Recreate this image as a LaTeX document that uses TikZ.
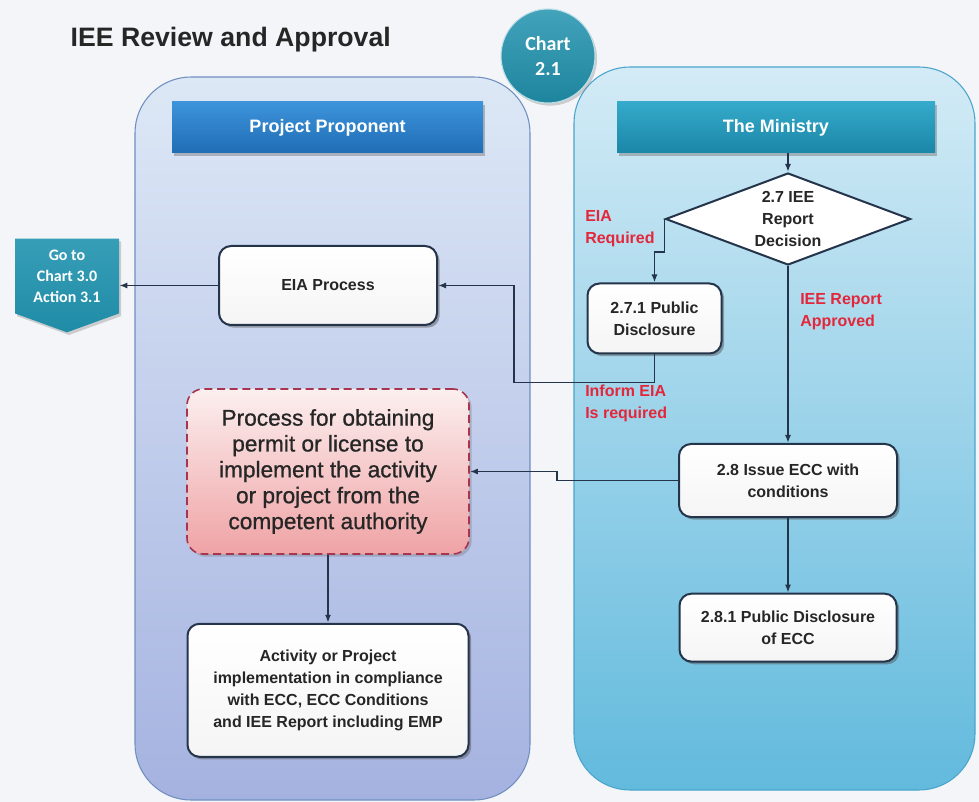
\documentclass[tikz,border=0pt]{standalone}
\usepackage{fontspec}
\setmainfont{Liberation Sans}
\newfontfamily\calibri{Carlito}
\newfontfamily\permitfont[FakeBold=0.8]{Liberation Sans}
\usepackage{tikz}
\usetikzlibrary{shapes.geometric, shapes.symbols, arrows.meta, positioning, shadows}

\definecolor{bgcol}{HTML}{F4F5F9}
\definecolor{laneppTop}{HTML}{DDE8F6}
\definecolor{laneppBot}{HTML}{A5B2E0}
\definecolor{laneppEdge}{HTML}{6F8FC0}
\definecolor{laneminTop}{HTML}{D3EBF6}
\definecolor{laneminBot}{HTML}{62BADD}
\definecolor{laneminEdge}{HTML}{4AA5CC}
\definecolor{ppTop}{HTML}{3D93DA}
\definecolor{ppBot}{HTML}{1F6DB5}
\definecolor{minTop}{HTML}{35AACA}
\definecolor{minBot}{HTML}{1A86A8}
\definecolor{badge}{HTML}{2193AF}
\definecolor{navyline}{HTML}{24344A}
\definecolor{redtxt}{HTML}{E4263A}
\definecolor{permitTop}{HTML}{FCEFEF}
\definecolor{permitBot}{HTML}{EFA3A5}
\definecolor{permitEdge}{HTML}{A83550}

\tikzset{
    base/.style={font=\bfseries\fontsize{12}{16.5}\selectfont, align=center, text=black!85},
    block/.style={base, rectangle, draw=navyline, line width=1.5pt, rounded corners=9pt,
        top color=white, bottom color=gray!8,
        drop shadow={shadow xshift=2pt, shadow yshift=-2pt, opacity=0.45, fill=black!70}},
    permitbox/.style={rectangle, draw=permitEdge, line width=1.2pt, dash pattern=on 6pt off 3.5pt,
        rounded corners=12pt, top color=permitTop, bottom color=permitBot, align=center,
        font=\permitfont\fontsize{17}{19.4}\selectfont, text=black!85,
        drop shadow={shadow xshift=2pt, shadow yshift=-2pt, opacity=0.3, fill=black!60}},
    decision/.style={base, diamond, draw=navyline, line width=1.5pt, fill=white,
        aspect=2.66, inner sep=0pt},
    lane/.style={rectangle, rounded corners=42pt, line width=0.8pt},
    header/.style={rectangle, font=\bfseries\fontsize{13.5}{16}\selectfont, text=white,
        minimum height=38.25pt,
        drop shadow={shadow xshift=1.5pt, shadow yshift=-2pt, opacity=0.4, fill=black!60}},
    redlabel/.style={font=\bfseries\fontsize{12}{16.5}\selectfont, text=redtxt, align=left, inner sep=0pt},
    line/.style={draw=navyline, line width=1.2pt, -{Latex[length=6pt, width=4.5pt]}}
}

\begin{document}
\begin{tikzpicture}[x=0.75pt, y=-0.75pt]
    \useasboundingbox (0,0) rectangle (979,802);
    \fill [bgcol] (0,0) rectangle (979,802);

    % swimlanes
    \node [lane, draw=laneppEdge, top color=laneppTop, bottom color=laneppBot,
        minimum width=296.25pt, minimum height=542.25pt] (LanePP) at (332.5,438.5) {};
    \node [lane, draw=laneminEdge, top color=laneminTop, bottom color=laneminBot,
        minimum width=300.75pt, minimum height=542.25pt] (LaneMIN) at (774.5,428.5) {};

    \node [anchor=base west, font=\bfseries\fontsize{20}{24}\selectfont, text=black!85] (Title) at (66,47) {IEE Review and Approval};
    \node [circle, minimum size=70.5pt, top color=badge!85!white, bottom color=badge!90!black, draw=white!70!badge, line width=0.8pt,
        font=\calibri\bfseries\fontsize{15}{18.75}\selectfont, text=white, align=center,
        drop shadow={shadow xshift=1.5pt, shadow yshift=-2pt, opacity=0.35}] (Chart) at (548,56) {Chart\\2.1};

    \node [header, top color=ppTop, bottom color=ppBot, minimum width=233.25pt] (PP) at (327.5,127.5) {Project Proponent};
    \node [header, top color=minTop, bottom color=minBot, minimum width=238.5pt] (MIN) at (776,127.5) {The Ministry};

    \node [decision, minimum width=183.75pt, minimum height=69pt] (D27) at (788,219) {2.7 IEE\\Report\\Decision};
    \node [block, minimum width=100.5pt, minimum height=52.5pt] (D271) at (654.5,318.5) {2.7.1 Public\\Disclosure};
    \node [block, minimum width=163.5pt, minimum height=54.75pt] (D28) at (788,480.5) {2.8 Issue ECC with\\conditions};
    \node [block, minimum width=162.75pt, minimum height=51pt, below=56pt of D28] (D281) {2.8.1 Public Disclosure\\of ECC};

    \node [block, minimum width=163.5pt, minimum height=59.25pt] (EIA) at (328,285.5) {EIA Process};
    \node [permitbox, minimum width=211.5pt, minimum height=123.75pt] (PRM) at (328,471.5)
        {Process for obtaining\\permit or license to\\implement the activity\\or project from the\\competent authority};
    \node [block, minimum width=210.75pt, minimum height=99.75pt, below=51pt of PRM] (ACT)
        {Activity or Project\\implementation in compliance\\with ECC, ECC Conditions\\and IEE Report including EMP};

    \node [signal, signal to=south, signal pointer angle=140, top color=badge!90!white, bottom color=badge!95!black,
        minimum width=78pt, minimum height=66pt, inner sep=2pt, align=center, text=white,
        font=\calibri\bfseries\fontsize{12}{15.75}\selectfont,
        drop shadow={shadow xshift=1.5pt, shadow yshift=-2pt, opacity=0.35}] (GO) at (67,276) {Go to\\Chart 3.0\\Action 3.1};

    % branch labels
    \node [redlabel, anchor=north west] (LblEIA) at (585,210) {EIA\\Required};
    \node [redlabel, anchor=north west] (LblOK) at (800,293) {IEE Report\\Approved};
    \node [redlabel, anchor=north west] (LblInf) at (585,385) {Inform EIA\\Is required};

    % connectors
    \draw [line] (MIN.south -| D27.north) -- (D27.north);
    \draw [line] (D27.west) -- ++(0,33) -| (D271.north);
    \draw [line] (D271.south) -- ++(0,28) -| ([xshift=57pt]EIA.east) -- (EIA.east);
    \draw [line] (D27.south) -- (D28.north);
    \draw [line] (D28.west) -- ++(-121,0) |- (PRM.east);
    \draw [line] (D28.south) -- (D281.north);
    \draw [line] (PRM.south) -- (ACT.north);
    \draw [line] (EIA.west) -- (EIA.west -| GO.east);
\end{tikzpicture}
\end{document}
